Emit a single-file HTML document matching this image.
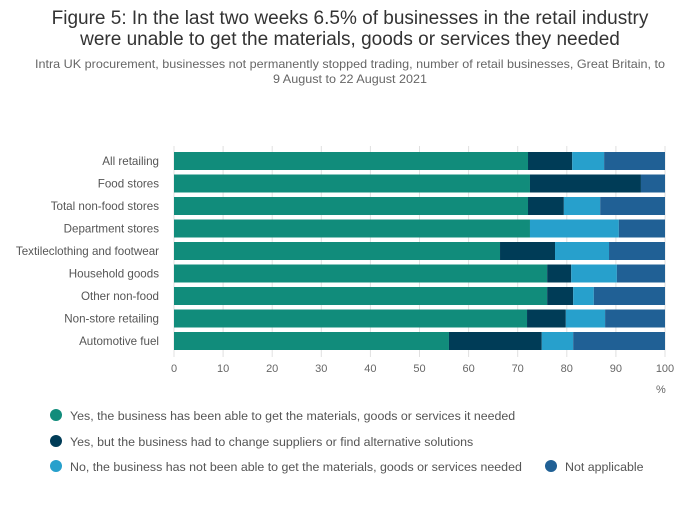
<!DOCTYPE html>
<html><head><meta charset="utf-8">
<style>
body{margin:0;width:700px;height:502px;background:#fff;font-family:"Liberation Sans",sans-serif;overflow:hidden}
</style></head>
<body>
<svg id="c" width="700" height="502">
<text x="350" y="24" text-anchor="middle" font-size="19" fill="#333">Figure 5: In the last two weeks 6.5% of businesses in the retail industry</text>
<text x="350" y="45" text-anchor="middle" font-size="19" fill="#333">were unable to get the materials, goods or services they needed</text>
<text x="350" y="68" text-anchor="middle" font-size="12" fill="#666" textLength="630" lengthAdjust="spacingAndGlyphs">Intra UK procurement, businesses not permanently stopped trading, number of retail businesses, Great Britain, to</text>
<text x="350" y="83" text-anchor="middle" font-size="12" fill="#666" textLength="154" lengthAdjust="spacingAndGlyphs">9 August to 22 August 2021</text>
<g id="grid"></g><g id="bars"></g><g id="labels"></g><g id="ticks"></g>
<text x="656" y="393" font-size="11" fill="#666">%</text>
<g id="legend"></g>
</svg>
<script>
const categories=["All retailing","Food stores","Total non-food stores","Department stores","Textileclothing and footwear","Household goods","Other non-food","Non-store retailing","Automotive fuel"];
const yesAble=[72.1,72.5,72.1,72.5,66.4,76.0,76.0,71.9,56.0];
const yesChanged=[9.0,22.6,7.3,0,11.2,4.9,5.3,7.9,18.9];
const notAble=[6.5,0,7.4,18.1,11.0,9.3,4.2,8.0,6.4];
const notApplicable=[12.4,4.9,13.2,9.4,11.4,9.8,14.5,12.2,18.7];
const tickLabels=[0,10,20,30,40,50,60,70,80,90,100];
const seriesNames=["Yes, the business has been able to get the materials, goods or services it needed","Yes, but the business had to change suppliers or find alternative solutions","No, the business has not been able to get the materials, goods or services needed","Not applicable"];
const colors=["#118c7b","#003c57","#27a0cc","#206095"];
const NS="http://www.w3.org/2000/svg";
const x=v=>174+v*4.91, y=i=>152+i*22.5;
function mk(t,a,p){const e=document.createElementNS(NS,t);for(const k in a)e.setAttribute(k,a[k]);document.getElementById(p).appendChild(e);return e;}
tickLabels.forEach(t=>{
 const l=mk('line',{x1:x(t),x2:x(t),y1:146,y2:357,stroke:'#e0e0e0'},'grid');
 
 
 const tx=mk('text',{x:x(t),y:372,'text-anchor':'middle','font-size':11,fill:'#666'},'ticks');tx.textContent=t;
 
 
});
const series=[yesAble,yesChanged,notAble,notApplicable];
categories.forEach((c,i)=>{
 let acc=0;
 series.forEach((s,j)=>{
  const r=mk('rect',{x:x(acc),y:y(i),width:Math.max(0,x(acc+s[i])-x(acc)),height:18,fill:colors[j]},'bars');
  
  
  acc+=s[i];
 });
 const t=mk('text',{x:159,y:y(i)+13,'text-anchor':'end','font-size':11.6,fill:'#555'},'labels');t.textContent=c;
 
 
});
const lp=[[56,415],[56,441],[56,466],[551,466]];
seriesNames.forEach((n,j)=>{
 const ci=mk('circle',{cx:lp[j][0],cy:lp[j][1],r:6,fill:colors[j]},'legend');
 
 
 const t=mk('text',{x:lp[j][0]+14,y:lp[j][1]+5,'font-size':12.4,fill:'#555'},'legend');t.textContent=n;
 
 
});
</script>
</body></html>
